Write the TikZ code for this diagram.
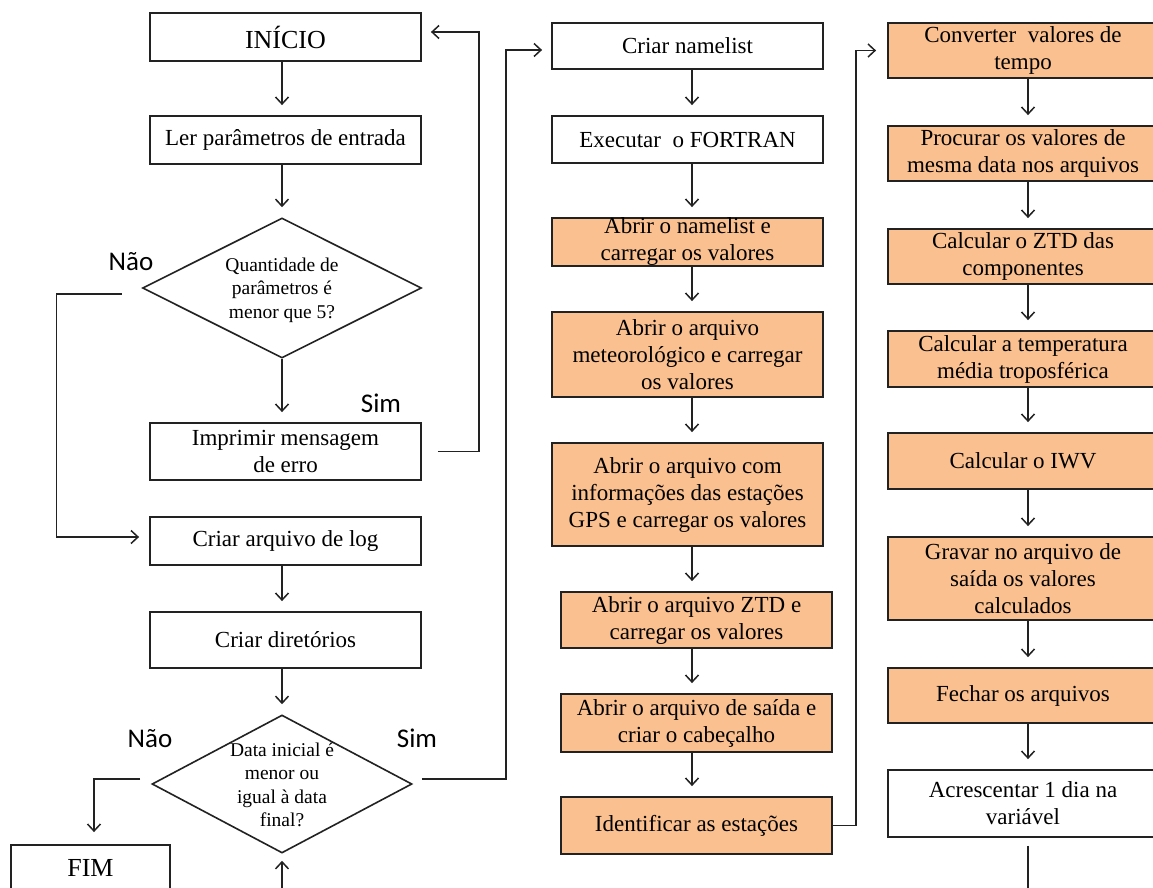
\documentclass[tikz,border=0pt]{standalone}
\usepackage{fontspec}
\setmainfont{Liberation Serif}
\newfontfamily\calib{Carlito}
\usetikzlibrary{arrows.meta,shapes.geometric,calc}
\definecolor{boxorange}{HTML}{FAC090}
\definecolor{edgec}{HTML}{222222}
\begin{document}
\begin{tikzpicture}[x=1pt,y=-1pt,
  box/.style={draw=edgec, line width=1.8pt, rectangle, inner sep=0pt, align=center,
    font=\fontsize{23}{27}\selectfont, text=black},
  obox/.style={box, fill=boxorange},
  wl/.style={minimum width=271pt},
  wr/.style={minimum width=270pt},
  dia/.style={draw=edgec, line width=1.6pt, diamond, inner sep=0pt},
  dtext/.style={align=center, font=\fontsize{19.5}{23.5}\selectfont, inner sep=0pt},
  lab/.style={font=\calib\fontsize{27}{30}\selectfont, anchor=base, inner sep=0pt},
  arr/.style={draw=edgec, line width=1.5pt, -{Straight Barb[length=7pt,width=13pt]}, shorten >=10pt},
  ln/.style={draw=edgec, line width=1.5pt}
]
\path[use as bounding box, fill=white] (0,0) rectangle (1153,888);

\coordinate (lx) at (282,0);
\coordinate (mx) at (692,0);
\coordinate (rx) at (1028,0);

% left column
\node[box, wl, minimum height=48pt, font=\fontsize{26}{30}\selectfont] (inicio) at (285.5,37) {INÍCIO};
\node[box, wl, minimum height=48pt] (ler) at (285.5,140) {Ler parâmetros de entrada};
\node[dia, minimum width=279pt, minimum height=140pt] (d1) at (282,288) {};
\node[dtext] (d1t) at (282,290) {Quantidade de\\parâmetros é\\menor que 5?};
\node[box, wl, minimum height=57pt] (imp) at (285.5,451.5) {Imprimir mensagem\\de erro};
\node[box, wl, minimum height=48pt] (log) at (285.5,541) {Criar arquivo de log};
\node[box, wl, minimum height=56pt] (dir) at (285.5,640) {Criar diretórios};
\node[dia, minimum width=260pt, minimum height=138pt] (d2) at (282,784) {};
\node[dtext] (d2t) at (282,785) {Data inicial é\\menor ou\\igual à data\\final?};
\node[box, minimum width=159pt, minimum height=46pt, font=\fontsize{26}{30}\selectfont] (fim) at (90.5,868) {FIM};

\node[lab] (nao1) at (131,270) {Não};
\node[lab] (sim1) at (381,412) {Sim};
\node[lab] (nao2) at (150,747) {Não};
\node[lab] (sim2) at (417,747) {Sim};

% middle column
\node[box, wl, minimum height=46pt] (nl) at (687.5,46) {Criar namelist};
\node[box, wl, minimum height=47pt] (ex) at (687.5,139.5) {Executar~ o FORTRAN};
\node[obox, wl, minimum height=48pt] (ab1) at (687.5,242) {Abrir o namelist e\\carregar os valores};
\node[obox, wl, minimum height=85pt] (met) at (687.5,354.5) {Abrir o arquivo\\meteorológico e carregar\\os valores};
\node[obox, wl, minimum height=103pt] (gps) at (687.5,494.5) {Abrir o arquivo com\\informações das estações\\GPS e carregar os valores};
\node[obox, wl, minimum height=56pt] (ztd) at (696.5,620) {Abrir o arquivo ZTD e\\carregar os valores};
\node[obox, wl, minimum height=58pt] (sai) at (696.5,723) {Abrir o arquivo de saída e\\criar o cabeçalho};
\node[obox, wl, minimum height=57pt] (idn) at (696.5,825.5) {Identificar as estações};

% right column
\node[obox, wr, minimum height=55pt] (cv) at (1023,50.5) {Converter~ valores de\\tempo};
\node[obox, wr, minimum height=55pt] (pr) at (1023,153.5) {Procurar os valores de\\mesma data nos arquivos};
\node[obox, wr, minimum height=55pt] (zc) at (1023,256.5) {Calcular o ZTD das\\componentes};
\node[obox, wr, minimum height=56pt] (tm) at (1023,359) {Calcular a temperatura\\média troposférica};
\node[obox, wr, minimum height=56pt] (iw) at (1023,461) {Calcular o IWV};
\node[obox, wr, minimum height=83pt] (gv) at (1023,578.5) {Gravar no arquivo de\\saída os valores\\calculados};
\node[obox, wr, minimum height=55pt] (fc) at (1023,695.5) {Fechar os arquivos};
\node[box, wr, minimum height=67pt] (ac) at (1023,803.5) {Acrescentar 1 dia na\\variável};

\coordinate (rb) at (1028,900);
\coordinate (lb) at (282,900);

% left connectors
\draw[arr] (inicio.south -| lx) -- (ler.north -| lx);
\draw[arr] (ler.south -| lx) -- (d1.north);
\draw[arr] (d1.south) -- (imp.north -| lx);
\draw[arr, shorten >=0pt] ([xshift=-20pt,yshift=-6pt]d1.west) -- ++(-65,0) |- ([xshift=-10pt,yshift=4pt]log.west);
\draw[arr, shorten >=0pt] ([xshift=16pt]imp.east) -- ++(41,0) |- ([xshift=9pt,yshift=5pt]inicio.east);
\draw[arr] (log.south -| lx) -- (dir.north -| lx);
\draw[arr] (dir.south -| lx) -- (d2.north);
\draw[arr, shorten >=0pt] ([xshift=-11pt,yshift=5pt]d2.west) -| ([xshift=3.5pt,yshift=12pt]fim.north);
\draw[arr, shorten >=0pt] ([xshift=9pt,yshift=5pt]d2.east) -- ++(84,0) |- ([xshift=-9pt,yshift=-4pt]nl.west);
\draw[arr, shorten >=7pt] (lb) -- (d2.south);

% middle connectors
\draw[arr] (nl.south -| mx) -- (ex.north -| mx);
\draw[arr] (ex.south -| mx) -- (ab1.north -| mx);
\draw[arr] (ab1.south -| mx) -- (met.north -| mx);
\draw[arr] (met.south -| mx) -- (gps.north -| mx);
\draw[arr] (gps.south -| mx) -- (ztd.north -| mx);
\draw[arr] (ztd.south -| mx) -- (sai.north -| mx);
\draw[arr] (sai.south -| mx) -- (idn.north -| mx);
\draw[arr, shorten >=0pt] (idn.east) -- ++(23,0) |- ([xshift=-11pt]cv.west);

% right connectors
\draw[arr] (cv.south -| rx) -- (pr.north -| rx);
\draw[arr] (pr.south -| rx) -- (zc.north -| rx);
\draw[arr] (zc.south -| rx) -- (tm.north -| rx);
\draw[arr] (tm.south -| rx) -- (iw.north -| rx);
\draw[arr] (iw.south -| rx) -- (gv.north -| rx);
\draw[arr] (gv.south -| rx) -- (fc.north -| rx);
\draw[arr] (fc.south -| rx) -- (ac.north -| rx);
\draw[ln, shorten <=8pt] (ac.south -| rx) -- (rb);
\end{tikzpicture}
\end{document}
